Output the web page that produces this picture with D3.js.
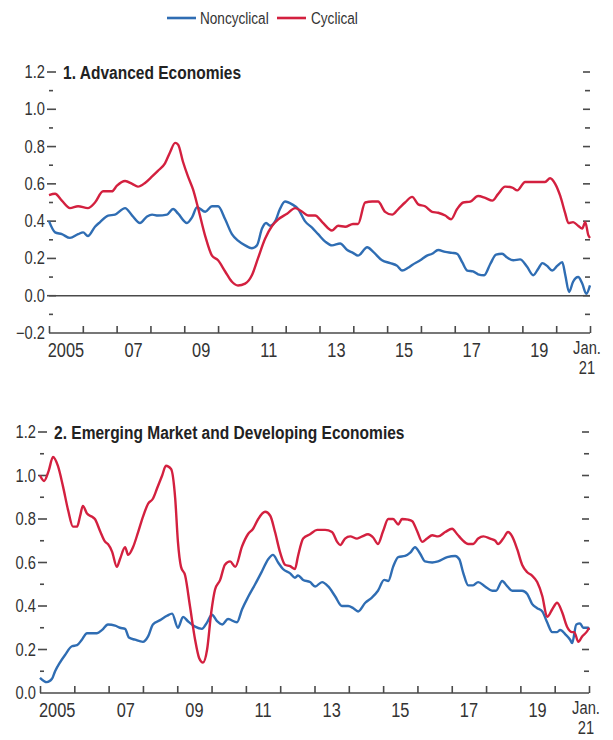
<!DOCTYPE html>
<html>
<head>
<meta charset="utf-8">
<script src="https://cdn.jsdelivr.net/npm/d3@7"></script>
<style>
  body { margin: 0; background: #fff; }
  svg { display: block; }
  .chart text { font-family: "Liberation Sans", Arial, sans-serif; fill: #333; }
  .title { font-weight: bold; fill: #222 !important; }
</style>
</head>
<body>
<svg class="chart" width="613" height="740"></svg>
<script>
// [year, value]
const advNoncyclical = [
  [2005.0,0.40],[2005.18,0.34],[2005.38,0.33],[2005.62,0.31],[2005.86,0.33],[2006.01,0.34],[2006.15,0.32],
  [2006.36,0.37],[2006.51,0.395],[2006.75,0.43],[2006.95,0.435],[2007.25,0.47],[2007.46,0.43],[2007.69,0.39],
  [2007.9,0.425],[2008.05,0.435],[2008.22,0.43],[2008.49,0.435],[2008.67,0.465],[2008.82,0.44],[2009.08,0.39],
  [2009.23,0.42],[2009.38,0.475],[2009.62,0.45],[2009.82,0.48],[2010.0,0.48],[2010.21,0.41],[2010.41,0.33],
  [2010.59,0.295],[2010.8,0.27],[2011.0,0.255],[2011.15,0.27],[2011.3,0.36],[2011.42,0.39],[2011.54,0.375],
  [2011.69,0.40],[2011.83,0.465],[2011.98,0.505],[2012.19,0.49],[2012.37,0.465],[2012.57,0.40],[2012.78,0.365],
  [2012.96,0.33],[2013.17,0.29],[2013.37,0.27],[2013.61,0.28],[2013.82,0.245],[2013.99,0.23],[2014.14,0.215],
  [2014.41,0.26],[2014.59,0.235],[2014.85,0.19],[2015.09,0.175],[2015.3,0.16],[2015.44,0.135],[2015.62,0.15],
  [2015.74,0.165],[2015.98,0.19],[2016.18,0.215],[2016.33,0.225],[2016.51,0.245],[2016.72,0.235],[2016.92,0.23],
  [2017.07,0.225],[2017.22,0.18],[2017.37,0.135],[2017.54,0.13],[2017.69,0.115],[2017.87,0.11],[2018.05,0.17],
  [2018.22,0.22],[2018.4,0.225],[2018.55,0.205],[2018.73,0.19],[2018.93,0.195],[2019.14,0.155],[2019.32,0.11],
  [2019.47,0.145],[2019.59,0.175],[2019.73,0.16],[2019.88,0.135],[2020.03,0.16],[2020.18,0.18],[2020.27,0.11],
  [2020.38,0.02],[2020.5,0.075],[2020.65,0.10],[2020.77,0.065],[2020.89,0.01],[2021.0,0.055]
];
const advCyclical = [
  [2005.0,0.54],[2005.18,0.547],[2005.38,0.51],[2005.62,0.47],[2005.86,0.48],[2006.15,0.47],[2006.36,0.50],
  [2006.6,0.56],[2006.86,0.56],[2007.01,0.59],[2007.25,0.615],[2007.46,0.60],[2007.63,0.585],[2007.84,0.605],
  [2008.05,0.64],[2008.22,0.67],[2008.43,0.71],[2008.58,0.77],[2008.73,0.82],[2008.82,0.81],[2008.96,0.72],
  [2009.11,0.64],[2009.26,0.57],[2009.41,0.47],[2009.62,0.32],[2009.82,0.215],[2010.0,0.19],[2010.21,0.13],
  [2010.41,0.075],[2010.59,0.055],[2010.8,0.065],[2011.0,0.11],[2011.18,0.2],[2011.39,0.305],[2011.6,0.375],
  [2011.78,0.41],[2012.04,0.44],[2012.28,0.47],[2012.49,0.45],[2012.66,0.43],[2012.87,0.43],[2013.08,0.395],
  [2013.37,0.35],[2013.55,0.375],[2013.76,0.37],[2013.99,0.385],[2014.14,0.385],[2014.35,0.5],[2014.56,0.505],
  [2014.73,0.505],[2014.94,0.45],[2015.15,0.435],[2015.33,0.465],[2015.53,0.50],[2015.74,0.53],[2015.92,0.49],
  [2016.12,0.48],[2016.33,0.45],[2016.51,0.445],[2016.72,0.43],[2016.89,0.41],[2017.07,0.465],[2017.25,0.50],
  [2017.46,0.505],[2017.69,0.535],[2017.9,0.525],[2018.11,0.51],[2018.28,0.545],[2018.49,0.585],[2018.7,0.58],
  [2018.85,0.565],[2019.08,0.61],[2019.29,0.61],[2019.47,0.61],[2019.67,0.61],[2019.82,0.63],[2019.97,0.60],
  [2020.12,0.535],[2020.27,0.44],[2020.36,0.39],[2020.5,0.395],[2020.65,0.375],[2020.77,0.36],[2020.86,0.395],
  [2020.95,0.325],[2021.0,0.31]
];
const emdeNoncyclical = [
  [2005.0,0.07],[2005.2,0.05],[2005.35,0.065],[2005.44,0.10],[2005.58,0.14],[2005.73,0.175],[2005.93,0.215],
  [2006.08,0.22],[2006.22,0.245],[2006.37,0.275],[2006.52,0.275],[2006.66,0.275],[2006.81,0.29],[2006.98,0.315],
  [2007.19,0.31],[2007.33,0.30],[2007.48,0.295],[2007.59,0.255],[2007.77,0.245],[2008.0,0.235],[2008.15,0.26],
  [2008.29,0.315],[2008.5,0.335],[2008.7,0.355],[2008.85,0.365],[2009.02,0.30],[2009.17,0.35],[2009.31,0.33],
  [2009.52,0.305],[2009.72,0.295],[2009.87,0.325],[2010.01,0.36],[2010.16,0.33],[2010.31,0.315],[2010.48,0.34],
  [2010.74,0.325],[2010.89,0.385],[2011.06,0.44],[2011.27,0.50],[2011.47,0.56],[2011.65,0.615],[2011.79,0.635],
  [2011.94,0.60],[2012.08,0.57],[2012.29,0.55],[2012.43,0.53],[2012.52,0.54],[2012.67,0.52],[2012.87,0.51],
  [2013.02,0.49],[2013.22,0.51],[2013.4,0.49],[2013.6,0.445],[2013.8,0.40],[2013.98,0.40],[2014.13,0.39],
  [2014.27,0.375],[2014.48,0.415],[2014.68,0.44],[2014.85,0.47],[2015.03,0.52],[2015.15,0.515],[2015.29,0.58],
  [2015.44,0.625],[2015.64,0.63],[2015.79,0.645],[2015.93,0.67],[2016.08,0.64],[2016.22,0.605],[2016.43,0.60],
  [2016.6,0.605],[2016.87,0.625],[2017.1,0.63],[2017.22,0.615],[2017.33,0.555],[2017.48,0.495],[2017.62,0.495],
  [2017.77,0.51],[2017.97,0.49],[2018.18,0.47],[2018.29,0.47],[2018.47,0.515],[2018.62,0.49],[2018.76,0.47],
  [2018.91,0.47],[2019.05,0.47],[2019.2,0.455],[2019.34,0.41],[2019.49,0.39],[2019.64,0.375],[2019.78,0.325],
  [2019.93,0.28],[2020.07,0.28],[2020.16,0.29],[2020.31,0.27],[2020.45,0.245],[2020.51,0.23],[2020.63,0.315],
  [2020.74,0.32],[2020.83,0.30],[2020.98,0.30],[2021.0,0.29]
];
const emdeCyclical = [
  [2005.0,1.0],[2005.12,0.975],[2005.25,1.02],[2005.38,1.085],[2005.52,1.045],[2005.67,0.95],[2005.82,0.84],
  [2005.96,0.765],[2006.08,0.765],[2006.17,0.815],[2006.25,0.86],[2006.37,0.825],[2006.52,0.81],[2006.6,0.80],
  [2006.75,0.745],[2006.9,0.695],[2006.98,0.685],[2007.1,0.65],[2007.24,0.58],[2007.33,0.615],[2007.48,0.67],
  [2007.57,0.635],[2007.71,0.67],[2007.86,0.74],[2008.0,0.81],[2008.15,0.87],[2008.29,0.893],[2008.41,0.94],
  [2008.56,1.0],[2008.67,1.045],[2008.82,1.03],[2008.94,0.895],[2009.02,0.695],[2009.11,0.58],[2009.23,0.54],
  [2009.37,0.40],[2009.52,0.245],[2009.64,0.16],[2009.75,0.14],[2009.87,0.20],[2009.99,0.37],[2010.1,0.475],
  [2010.25,0.52],[2010.39,0.59],[2010.54,0.605],[2010.69,0.58],[2010.89,0.675],[2011.06,0.73],[2011.21,0.755],
  [2011.36,0.80],[2011.56,0.833],[2011.71,0.815],[2011.85,0.74],[2012.0,0.645],[2012.14,0.59],[2012.29,0.583],
  [2012.43,0.57],[2012.52,0.63],[2012.67,0.71],[2012.87,0.73],[2013.08,0.75],[2013.31,0.75],[2013.51,0.74],
  [2013.66,0.695],[2013.75,0.68],[2013.89,0.71],[2014.04,0.72],[2014.24,0.71],[2014.39,0.72],[2014.56,0.73],
  [2014.71,0.715],[2014.85,0.685],[2015.0,0.745],[2015.15,0.80],[2015.29,0.80],[2015.44,0.775],[2015.55,0.80],
  [2015.73,0.797],[2015.85,0.79],[2015.99,0.745],[2016.14,0.695],[2016.28,0.71],[2016.43,0.725],[2016.6,0.72],
  [2016.81,0.74],[2017.01,0.755],[2017.16,0.73],[2017.3,0.705],[2017.48,0.685],[2017.62,0.685],[2017.77,0.71],
  [2017.92,0.72],[2018.12,0.71],[2018.27,0.70],[2018.35,0.685],[2018.5,0.71],[2018.64,0.74],[2018.76,0.72],
  [2018.91,0.66],[2019.05,0.59],[2019.2,0.555],[2019.34,0.54],[2019.49,0.51],[2019.64,0.445],[2019.78,0.35],
  [2019.93,0.385],[2020.07,0.415],[2020.22,0.37],[2020.36,0.305],[2020.51,0.28],[2020.57,0.28],[2020.69,0.235],
  [2020.8,0.26],[2020.95,0.285],[2021.0,0.30]
];

const yearTicks = d3.range(2005, 2022);
const yearLabelYears = [2005, 2007, 2009, 2011, 2013, 2015, 2017, 2019];
const yearLabels = ["2005", "07", "09", "11", "13", "15", "17", "19"];
const yTicksAdv = [-0.2, 0, 0.2, 0.4, 0.6, 0.8, 1.0, 1.2];
const yTicksEmde = [0, 0.2, 0.4, 0.6, 0.8, 1.0, 1.2];
const seriesNames = ["Noncyclical", "Cyclical"];

const blue = "#2f6db3";
const red = "#d3203f";
const axisColor = "#4a4a4a";

const svg = d3.select(".chart");

// Arial squeezed horizontally, close to the condensed face of the original
function condText(g, x, y, str, size, anchor, squeeze) {
  return g.append("text")
    .attr("transform", "translate(" + x + "," + y + ") scale(" + (squeeze || 0.84) + ",1)")
    .attr("text-anchor", anchor || "start")
    .attr("font-size", size)
    .text(str);
}

// legend
const legend = svg.append("g").attr("class", "legend");
[[167, 200, blue], [277, 311, red]].forEach(([lx, tx, c], i) => {
  legend.append("line").attr("x1", lx).attr("x2", lx + 29).attr("y1", 18).attr("y2", 18)
    .attr("stroke", c).attr("stroke-width", 2.6);
  condText(legend, tx, 24, seriesNames[i], 17, "start", 0.8);
});

function drawPanel(p) {
  const g = svg.append("g");
  const x = d3.scaleLinear().domain([2005, 2021]).range([p.left, p.right]);
  const y = d3.scaleLinear().domain([p.yTicks[0], 1.2]).range([p.bottom, p.top]);
  const minor = d3.range(p.yTicks[0] * 10 + 1, 12, 2).map((v) => v / 10);

  // left and right tick marks
  p.yTicks.forEach((v) => {
    if (v !== p.yTicks[0]) {
      g.append("line").attr("x1", p.left - 2).attr("x2", p.left + 7)
        .attr("y1", y(v)).attr("y2", y(v)).attr("stroke", axisColor).attr("stroke-width", 1.6);
      g.append("line").attr("x1", p.right - 7).attr("x2", p.right)
        .attr("y1", y(v)).attr("y2", y(v)).attr("stroke", axisColor).attr("stroke-width", 1.6);
    }
    condText(g, p.left - 4, y(v) + 6, v < 0 ? "\u2212" + Math.abs(v).toFixed(1) : v.toFixed(1), 17.5, "end");
  });
  minor.forEach((v) => {
    g.append("line").attr("x1", p.left).attr("x2", p.left + 4)
      .attr("y1", y(v)).attr("y2", y(v)).attr("stroke", axisColor).attr("stroke-width", 1.6);
    g.append("line").attr("x1", p.right - 5).attr("x2", p.right)
      .attr("y1", y(v)).attr("y2", y(v)).attr("stroke", axisColor).attr("stroke-width", 1.6);
  });

  condText(g, p.left + 14, p.top + 6.5, p.title, 18.5).attr("class", "title");

  if (p.zeroLine) {
    g.append("line").attr("x1", p.left).attr("x2", p.right).attr("y1", y(0)).attr("y2", y(0))
      .attr("stroke", axisColor).attr("stroke-width", 1.5);
  }

  // bottom axis with upward ticks
  const xAxis = d3.axisBottom(x).tickValues(yearTicks).tickSize(-7).tickFormat("");
  const ax = g.append("g").attr("transform", "translate(0," + p.bottom + ")").call(xAxis);
  ax.select(".domain").attr("d", "M" + p.left + ",0H" + p.right).attr("stroke", axisColor).attr("stroke-width", 1.6);
  ax.selectAll(".tick line").attr("stroke", axisColor).attr("stroke-width", 1.6);

  yearLabelYears.forEach((yr, i) => {
    condText(g, x(yr + 0.5), p.bottom + 23.5, yearLabels[i], 19.5, "middle");
  });
  condText(g, x(2021) - 3, p.bottom + 21, "Jan.", 17.5, "middle");
  condText(g, x(2021) - 3, p.bottom + 40.5, "21", 17.5, "middle");

  const line = d3.line().x((d) => x(d[0])).y((d) => y(d[1])).curve(d3.curveMonotoneX);
  g.append("path").datum(p.noncyclical).attr("d", line)
    .attr("fill", "none").attr("stroke", blue).attr("stroke-width", 2.4).attr("stroke-linejoin", "round");
  g.append("path").datum(p.cyclical).attr("d", line)
    .attr("fill", "none").attr("stroke", red).attr("stroke-width", 2.4).attr("stroke-linejoin", "round");
}

drawPanel({
  left: 49, right: 590, top: 72, bottom: 333, yTicks: yTicksAdv, zeroLine: true,
  title: "1. Advanced Economies", noncyclical: advNoncyclical, cyclical: advCyclical
});
drawPanel({
  left: 40, right: 589, top: 432, bottom: 693, yTicks: yTicksEmde, zeroLine: false,
  title: "2. Emerging Market and Developing Economies", noncyclical: emdeNoncyclical, cyclical: emdeCyclical
});
</script>
</body>
</html>
